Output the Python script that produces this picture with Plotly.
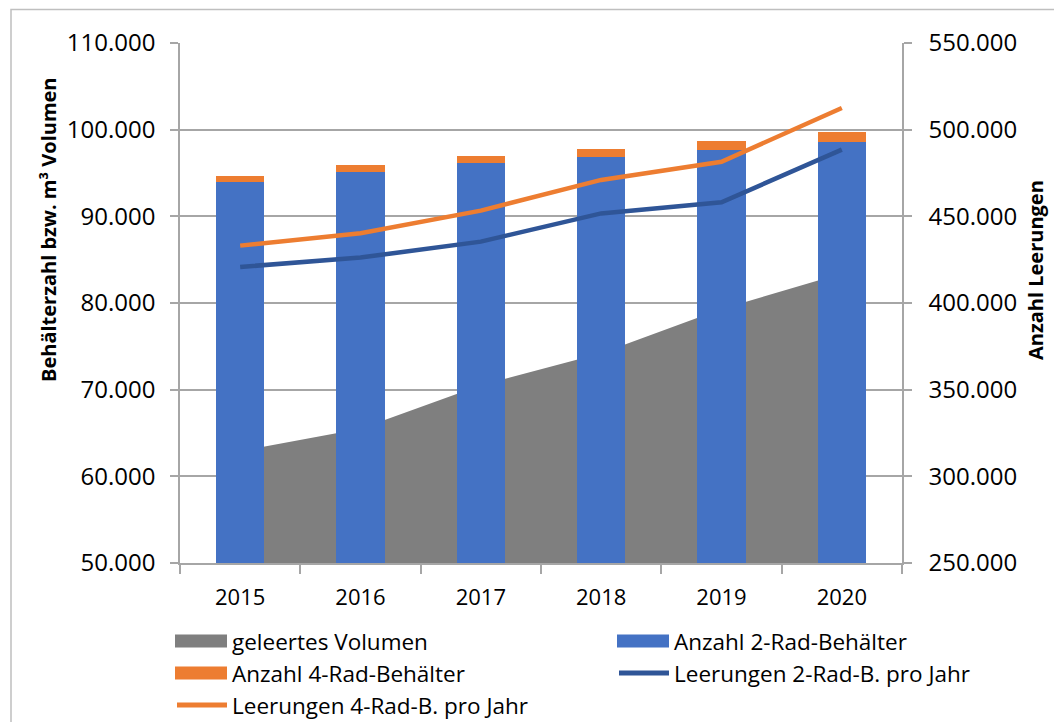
import plotly.graph_objects as go

# ---- data ----
years = ["2015", "2016", "2017", "2018", "2019", "2020"]
geleertes_volumen = [62900, 65500, 70500, 74200, 79300, 83400]
anzahl_2rad = [94000, 95150, 96100, 96900, 97650, 98600]
anzahl_4rad = [650, 730, 840, 880, 1040, 1080]
leerungen_2rad = [420800, 426200, 435400, 451700, 458100, 488500]
leerungen_4rad = [433100, 440200, 453300, 471000, 481500, 512500]

left_ticks = [50000, 60000, 70000, 80000, 90000, 100000, 110000]
right_ticks = [250000, 300000, 350000, 400000, 450000, 500000, 550000]

names = ["geleertes Volumen", "Anzahl 2-Rad-Behälter", "Anzahl 4-Rad-Behälter",
         "Leerungen 2-Rad-B. pro Jahr", "Leerungen 4-Rad-B. pro Jahr"]
GREY = "#7F7F7F"
BLUE = "#4472C4"
ORANGE = "#ED7D31"
DBLUE = "#2F5597"
colors = [GREY, BLUE, ORANGE, DBLUE, ORANGE]

# page offset of the plot div (browser body margin)
OFF = 8
W, H = 1062, 722
ML, MT = 180 - OFF, 43 - OFF
PW, PH = 722, 520
MR = W - ML - PW
MB = H - MT - PH

def px(x):
    # page x (pixels) -> paper fraction
    return (x - OFF - ML) / PW

def py(y):
    # page y (pixels) -> paper fraction
    return (MT + PH - (y - OFF)) / PH

FONT = "Open Sans"
AXC = "#A6A6A6"

fig = go.Figure()

# area on primary y (drawn first, behind bars)
fig.add_trace(go.Scatter(x=years, y=geleertes_volumen, name=names[0], mode="none",
                         fill="tozeroy", fillcolor=GREY, showlegend=False,
                         xaxis="x", yaxis="y"))
# stacked bars on overlay y2
fig.add_trace(go.Bar(x=years, y=anzahl_2rad, name=names[1], marker_color=BLUE,
                     marker_line_width=0, width=0.4, showlegend=False,
                     xaxis="x", yaxis="y2"))
fig.add_trace(go.Bar(x=years, y=anzahl_4rad, name=names[2], marker_color=ORANGE,
                     marker_line_width=0, width=0.4, showlegend=False,
                     xaxis="x", yaxis="y2"))
# lines on right axis y3
fig.add_trace(go.Scatter(x=years, y=leerungen_2rad, name=names[3], mode="lines",
                         line=dict(color=DBLUE, width=4.5), showlegend=False,
                         xaxis="x", yaxis="y3"))
fig.add_trace(go.Scatter(x=years, y=leerungen_4rad, name=names[4], mode="lines",
                         line=dict(color=ORANGE, width=4.5), showlegend=False,
                         xaxis="x", yaxis="y3"))

left_range = [left_ticks[0], left_ticks[-1]]

fig.update_layout(
    width=W, height=H,
    margin=dict(l=ML, r=MR, t=MT, b=MB, pad=0),
    paper_bgcolor="white", plot_bgcolor="white",
    separators=",.",
    barmode="stack",
    font=dict(family=FONT, color="black"),
    xaxis=dict(type="category", categoryarray=years, range=[-0.5, 5.5],
               showline=True, linecolor=AXC, linewidth=1.5,
               ticks="outside", tickson="boundaries", ticklen=9, tickcolor=AXC,
               tickwidth=1.5, tickfont=dict(size=22, family=FONT, color="black"),
               ticklabelstandoff=14, showgrid=False, zeroline=False),
    yaxis=dict(range=left_range, tickvals=left_ticks, tickformat=",d",
               showline=True, linecolor=AXC, linewidth=1.5,
               ticks="outside", ticklen=8, tickcolor=AXC, tickwidth=1.5,
               tickfont=dict(size=24, family=FONT, color="black"),
               ticklabelstandoff=10,
               showgrid=True, gridcolor=AXC, gridwidth=1.5, zeroline=False),
    yaxis2=dict(range=left_range, overlaying="y", visible=False, showgrid=False),
    yaxis3=dict(range=[right_ticks[0], right_ticks[-1]], tickvals=right_ticks,
                tickformat=",d", overlaying="y", side="right",
                showline=True, linecolor=AXC, linewidth=1.5,
                ticks="outside", ticklen=8, tickcolor=AXC, tickwidth=1.5,
                tickfont=dict(size=24, family=FONT, color="black"),
                ticklabelstandoff=12, showgrid=False, zeroline=False),
)

# axis titles
fig.add_annotation(text="Behälterzahl bzw. m³ Volumen", textangle=-90,
                   x=px(48), y=py(230), xref="paper", yref="paper",
                   xanchor="center", yanchor="middle", showarrow=False,
                   font=dict(size=20, family=FONT, color="black", weight="bold"))
fig.add_annotation(text="Anzahl Leerungen", textangle=-90,
                   x=px(1035), y=py(270), xref="paper", yref="paper",
                   xanchor="center", yanchor="middle", showarrow=False,
                   font=dict(size=20, family=FONT, color="black", weight="bold"))

# chart border
fig.add_shape(type="rect", xref="paper", yref="paper",
              x0=px(11), x1=px(1090), y0=py(740), y1=py(9.5),
              line=dict(color="#BFBFBF", width=1.5), fillcolor="rgba(0,0,0,0)",
              layer="below")

# custom legend (wide swatches as in the original)
legend_pos = [(175, 641), (617, 641), (175, 673), (617, 673), (175, 705)]
kinds = ["rect", "rect", "rect", "line", "line"]
for name, col, kind, (lx, ly) in zip(names, colors, kinds, legend_pos):
    if kind == "rect":
        fig.add_shape(type="rect", xref="paper", yref="paper",
                      x0=px(lx), x1=px(lx + 52), y0=py(ly + 6.5), y1=py(ly - 6.5),
                      line=dict(width=0), fillcolor=col)
    else:
        fig.add_shape(type="line", xref="paper", yref="paper",
                      x0=px(lx + 2), x1=px(lx + 52), y0=py(ly), y1=py(ly),
                      line=dict(color=col, width=5))
    fig.add_annotation(text=name, x=px(lx + 55), y=py(ly), xref="paper", yref="paper",
                       xanchor="left", yanchor="middle", showarrow=False,
                       font=dict(size=22.5, family=FONT, color="black"))

fig.write_html("out.html")
